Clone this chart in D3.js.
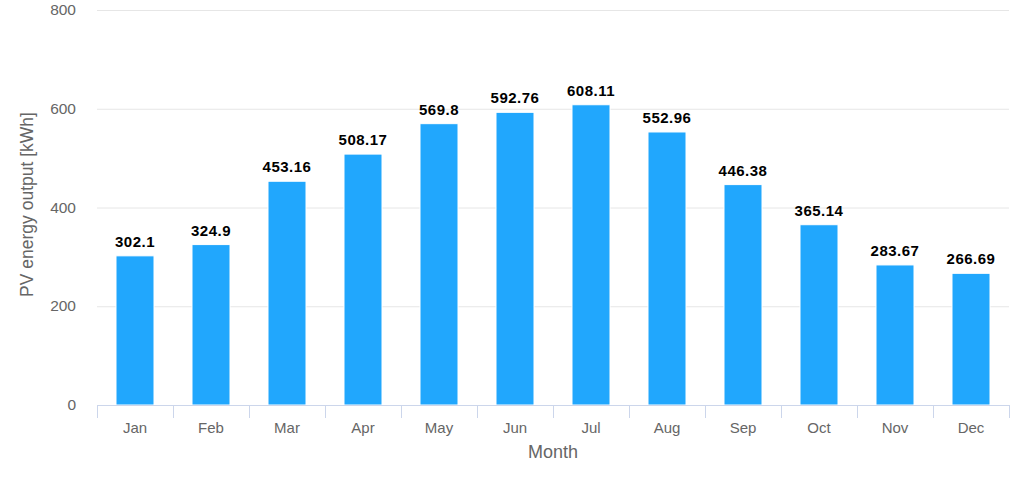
<!DOCTYPE html>
<html><head><meta charset="utf-8">
<script src="https://cdn.jsdelivr.net/npm/d3@7"></script>
<style>body{margin:0;background:#fff;}text{font-family:"Liberation Sans",Arial,Helvetica,sans-serif;}</style>
</head><body><svg id="c" width="1024" height="483"></svg>
<script>
const months = ["Jan","Feb","Mar","Apr","May","Jun","Jul","Aug","Sep","Oct","Nov","Dec"];
const output = [302.1,324.9,453.16,508.17,569.8,592.76,608.11,552.96,446.38,365.14,283.67,266.69];
const yTicks = [0,200,400,600,800];
const xTitle = "Month", yTitle = "PV energy output [kWh]";

const svg = d3.select("#c");
const L=97, R=1009, T=10, B=405;
const x = d3.scaleBand().domain(months).range([L,R]).paddingInner(0.5).paddingOuter(0.25);
const y = d3.scaleLinear().domain([0,800]).range([B,T]);

// grid
svg.append("g").selectAll("line").data(yTicks.filter(d=>d>0)).join("line")
  .attr("x1",L).attr("x2",R).attr("y1",d=>y(d)+0.5).attr("y2",d=>y(d)+0.5)
  .attr("stroke","#e6e6e6").attr("stroke-width",1);

// y labels
svg.append("g").selectAll("text").data(yTicks).join("text")
  .attr("x",76).attr("y",d=>y(d)+5).attr("text-anchor","end")
  .attr("font-size",15.5).attr("fill","#666").text(d=>d);

// bars
svg.append("g").selectAll("rect").data(output).join("rect")
  .attr("x",(d,i)=>x(months[i])).attr("width",x.bandwidth())
  .attr("y",d=>y(d)).attr("height",d=>B-y(d))
  .attr("fill","#21a7fd").attr("stroke","#fff").attr("stroke-width",1);

// data labels
svg.append("g").selectAll("text").data(output).join("text")
  .attr("x",(d,i)=>x(months[i])+x.bandwidth()/2).attr("y",d=>y(d)-9)
  .attr("text-anchor","middle").attr("font-size",15).attr("font-weight","bold")
  .attr("fill","#000").attr("letter-spacing","0.5").text(d=>d);

// x axis
svg.append("line").attr("x1",L).attr("x2",R).attr("y1",B+0.5).attr("y2",B+0.5).attr("stroke","#ccd6eb");
const edges = d3.range(months.length+1).map(i=>L+i*(R-L)/months.length);
svg.append("g").selectAll("line").data(edges).join("line")
  .attr("x1",d=>Math.round(d)+0.5).attr("x2",d=>Math.round(d)+0.5).attr("y1",B).attr("y2",B+13)
  .attr("stroke","#ccd6eb");
svg.append("g").selectAll("text").data(months).join("text")
  .attr("x",d=>x(d)+x.bandwidth()/2).attr("y",433).attr("text-anchor","middle")
  .attr("font-size",15).attr("fill","#666").text(d=>d);

svg.append("text").attr("x",(L+R)/2).attr("y",458).attr("text-anchor","middle")
  .attr("font-size",18).attr("fill","#666").text(xTitle);
svg.append("text").attr("transform",`translate(33,204.5) rotate(-90)`).attr("text-anchor","middle")
  .attr("font-size",17.5).attr("fill","#666").text(yTitle);
</script></body></html>
